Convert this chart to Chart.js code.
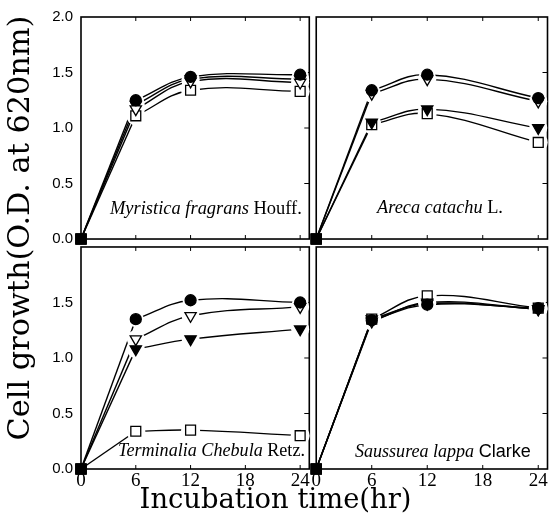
<!DOCTYPE html>
<html><head><meta charset="utf-8">
<script src="https://cdn.jsdelivr.net/npm/chart.js@4"></script>
<style>html,body{margin:0;padding:0;background:#fff;}canvas{display:block;}</style>
</head><body>
<canvas id="c" width="557" height="521"></canvas>
<script>
// ---- data ----
const hours = [0, 6, 12, 24];
const xTickValues = [0, 6, 12, 18, 24];
const yTickValuesTop = [0, 0.5, 1.0, 1.5, 2.0];
const yTickValuesBottom = [0, 0.5, 1.0, 1.5];
const xTitle = 'Incubation time(hr)';
const yTitle = 'Cell growth(O.D. at 620nm)';

// Myristica fragrans Houff. (top-left)
const myrFilledCircle   = [0, 1.25, 1.46, 1.48];
const myrOpenTriangle   = [0, 1.17, 1.42, 1.41];
const myrFilledTriangle = [0, 1.21, 1.44, 1.44];
const myrOpenSquare     = [0, 1.11, 1.34, 1.33];
// Areca catachu L. (top-right)
const areFilledCircle   = [0, 1.34, 1.48, 1.27];
const areOpenTriangle   = [0, 1.31, 1.44, 1.24];
const areFilledTriangle = [0, 1.05, 1.17, 1.00];
const areOpenSquare     = [0, 1.03, 1.13, 0.87];
// Terminalia Chebula Retz. (bottom-left)
const terFilledCircle   = [0, 1.35, 1.52, 1.50];
const terOpenTriangle   = [0, 1.17, 1.38, 1.46];
const terFilledTriangle = [0, 1.08, 1.17, 1.26];
const terOpenSquare     = [0, 0.34, 0.35, 0.30];
// Saussurea lappa Clarke (bottom-right)
const sauFilledCircle   = [0, 1.34, 1.48, 1.45];
const sauOpenTriangle   = [0, 1.33, 1.50, 1.44];
const sauFilledTriangle = [0, 1.35, 1.49, 1.44];
const sauOpenSquare     = [0, 1.35, 1.56, 1.45];

const labelMyr = [['Myristica fragrans ', 'i'], ['Houff.', 'r']];
const labelAre = [['Areca catachu ', 'i'], ['L.', 'r']];
const labelTer = [['Terminalia Chebula ', 'i'], ['Retz.', 'r']];
const labelSau = [['Saussurea lappa ', 'i'], ['Clarke', 's']];

// ---- styles ----
const titleFamily = '"DejaVu Serif"';
const markerStyles = [
  {style: 'circle',   fill: '#000', rot: 0,   r: 5.5},
  {style: 'triangle', fill: '#fff', rot: 180, r: 6.5},
  {style: 'triangle', fill: '#000', rot: 180, r: 6.5},
  {style: 'rect',     fill: '#fff', rot: 0,   r: 7}
];
const panels = [
  {x: 'xL', y: 'yT', series: [myrFilledCircle, myrOpenTriangle, myrFilledTriangle, myrOpenSquare], label: labelMyr, box: [110, 302, 209]},
  {x: 'xR', y: 'yT', series: [areFilledCircle, areOpenTriangle, areFilledTriangle, areOpenSquare], label: labelAre, box: [377, 503, 208]},
  {x: 'xL', y: 'yB', series: [terFilledCircle, terOpenTriangle, terFilledTriangle, terOpenSquare], label: labelTer, box: [118, 305, 451]},
  {x: 'xR', y: 'yB', series: [sauFilledCircle, sauOpenTriangle, sauFilledTriangle, sauOpenSquare], label: labelSau, box: [355, 531, 452]}
];

const measureCtx = document.createElement('canvas').getContext('2d');
function fitSize(text, family, target) {
  measureCtx.font = '20px ' + family;
  return 20 * target / measureCtx.measureText(text).width;
}
const xTitleSize = fitSize(xTitle, titleFamily, 272);
const yTitleSize = fitSize(yTitle, titleFamily, 425);

const datasets = [];
panels.forEach(p => {
  p.series.forEach((vals, si) => {
    const pts = hours.map((h, i) => ({x: h, y: vals[i]}));
    const m = markerStyles[si];
    const common = {xAxisID: p.x, yAxisID: p.y, clip: false, borderColor: '#000'};
    datasets.push({...common, data: pts.slice(0, 2), showLine: true, tension: 0, borderWidth: 1.4, pointRadius: 0, order: 10});
    datasets.push({...common, data: pts.slice(1), showLine: true, tension: 0.4, borderWidth: 1.4, pointRadius: 0, order: 10});
    datasets.push({...common, data: pts, showLine: false, pointStyle: 'circle',
      pointRadius: pts.map((d, i) => i === 0 ? 0 : m.r + 2.5), pointBackgroundColor: '#fff', pointBorderWidth: 0, order: 9});
    datasets.push({...common, data: pts, showLine: false,
      pointStyle: pts.map((d, i) => i === 0 ? 'rect' : m.style),
      pointRotation: pts.map((d, i) => i === 0 ? 0 : m.rot),
      pointRadius: pts.map((d, i) => i === 0 ? 7 : m.r),
      pointBackgroundColor: pts.map((d, i) => i === 0 ? '#000' : m.fill),
      pointBorderColor: '#000', pointBorderWidth: 1.3, order: 1 + si});
  });
});

function line(ctx, x1, y1, x2, y2) { ctx.beginPath(); ctx.moveTo(x1, y1); ctx.lineTo(x2, y2); ctx.stroke(); }

const framePlugin = {
  id: 'frames',
  beforeDatasetsDraw(chart) {
    const ctx = chart.ctx, s = chart.scales;
    ctx.save();
    ctx.strokeStyle = '#000';
    panels.forEach(p => {
      const xs = s[p.x], ys = s[p.y];
      const l = xs.left, r = xs.right, t = ys.top, b = ys.bottom;
      ctx.lineWidth = 1.6;
      ctx.strokeRect(l, t, r - l, b - t);
      ctx.lineWidth = 1;
      xTickValues.forEach(v => { if (v === 0) return; const px = xs.getPixelForValue(v); line(ctx, px, b, px, b - 4); line(ctx, px, t, px, t + 4); });
      [0.5, 1.0, 1.5].forEach(v => { const py = ys.getPixelForValue(v); line(ctx, r, py, r - 5, py); });
    });
    ctx.restore();
  },
  afterDraw(chart) {
    const ctx = chart.ctx;
    ctx.save();
    ctx.fillStyle = '#000';
    ctx.strokeStyle = '#000';
    ctx.textBaseline = 'middle';
    const fontFor = (k, sz) => k === 'i' ? `italic ${sz}px "Liberation Serif"` : (k === 's' ? `${sz}px "Liberation Sans"` : `${sz}px "Liberation Serif"`);
    panels.forEach(p => {
      const [x0, x1, yc] = p.box;
      let w = 0;
      p.label.forEach(([t, k]) => { ctx.font = fontFor(k, 16); w += ctx.measureText(t).width; });
      const sz = 16 * (x1 - x0) / w;
      let x = x0;
      ctx.textAlign = 'left';
      p.label.forEach(([t, k]) => { ctx.font = fontFor(k, sz); ctx.fillText(t, x, yc); x += ctx.measureText(t).width; });
    });
    // y title
    ctx.translate(21, 228);
    ctx.rotate(-Math.PI / 2);
    ctx.font = yTitleSize + 'px ' + titleFamily;
    ctx.textAlign = 'center';
    ctx.fillText(yTitle, 0, 0);
    ctx.restore();
  }
};

const fmt = v => Number(v).toFixed(1);
const yBase = (vals, weight) => ({
  type: 'linear', position: 'left', stack: 'v', stackWeight: weight, min: 0, max: 2,
  grid: {display: false, drawTicks: false}, border: {display: false},
  afterBuildTicks: s => { s.ticks = vals.map(v => ({value: v})); },
  afterFit: s => { s.width = 81; },
  ticks: {callback: fmt, padding: 8, color: '#000', font: {family: 'Liberation Sans', size: 15}}
});
const xBase = (weight) => ({
  type: 'linear', position: 'bottom', stack: 'h', stackWeight: weight, min: 0, max: 25,
  grid: {display: false, drawTicks: false}, border: {display: false},
  afterBuildTicks: s => { s.ticks = xTickValues.map(v => ({value: v})); },
  afterFit: s => { s.height = 20; },
  ticks: {padding: 1, autoSkip: false, maxRotation: 0, minRotation: 0, color: '#000', font: {family: 'Liberation Serif', size: 19}}
});
const spacer = (pos, stack, weight) => ({
  type: 'linear', position: pos, stack: stack, stackWeight: weight, min: 0, max: 1,
  grid: {display: false, drawTicks: false}, border: {display: false}, ticks: {display: false}
});

new Chart(document.getElementById('c'), {
  type: 'scatter',
  data: {datasets},
  options: {
    responsive: false, animation: false, events: [],
    layout: {padding: {left: 0, top: 15, right: 6, bottom: 8}},
    plugins: {
      legend: {display: false}, tooltip: {enabled: false},
      title: {display: true, text: xTitle, position: 'bottom', color: '#000',
        font: {family: 'DejaVu Serif', size: xTitleSize, weight: 'normal', lineHeight: 24 / xTitleSize}, padding: {top: 0, bottom: 0}}
    },
    scales: {
      yB: yBase(yTickValuesBottom, 223),
      ySp: spacer('left', 'v', 8),
      yT: yBase(yTickValuesTop, 223),
      xL: xBase(230),
      xSp: spacer('bottom', 'h', 7),
      xR: xBase(233)
    }
  },
  plugins: [framePlugin]
});
</script>
</body></html>
